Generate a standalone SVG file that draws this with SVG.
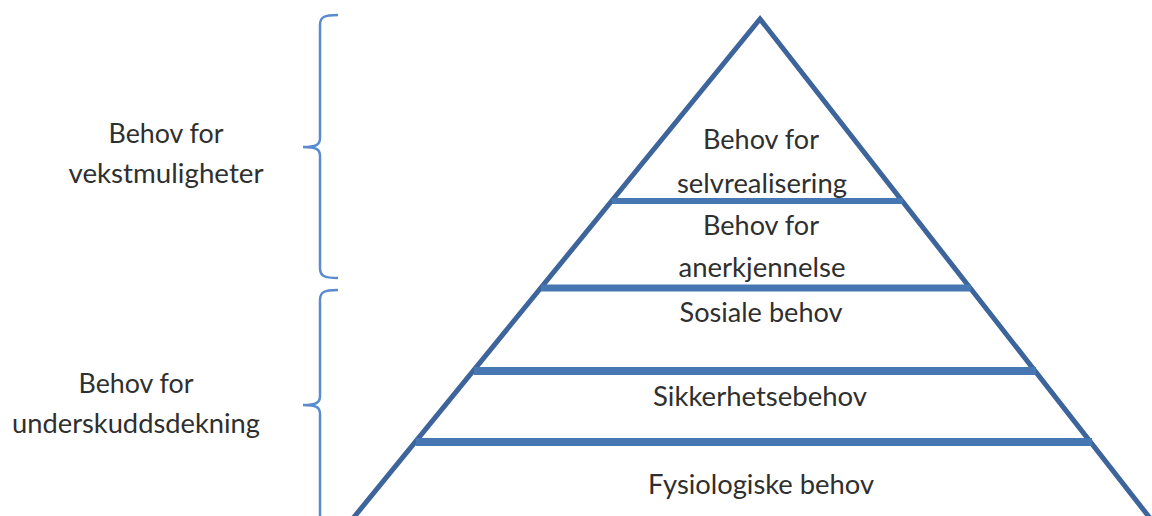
<svg xmlns="http://www.w3.org/2000/svg" width="1152" height="516" viewBox="0 0 1152 516">
<style>
.t{font-family:Lato,"Open Sans","Liberation Sans",sans-serif;font-size:27px;fill:#2f2f2f;text-anchor:middle}
.br{fill:none;stroke:#5B8BCF;stroke-width:2.5}
.ol{fill:none;stroke:#3D659C;stroke-width:5;stroke-linejoin:miter}
.bd{stroke:#4777B2}
</style>
<rect width="1152" height="516" fill="#fff"/>
<g id="connectors">
<path class="br" d="M338,15 C324,15 320,17 320,25 L320,138 C320,145 316,147 303,147 C316,147 320,149 320,156 L320,268 C320,276 324,278 338,278"/>
<path class="br" d="M338,290 C324,290 320,292 320,300 L320,396 C320,403 316,405 303,405 C316,405 320,407 320,414 L320,520"/>
</g>
<g id="pyramid">
<polyline class="ol" points="350,522 760,19 1153,522"/>
<line class="bd" x1="612" y1="201" x2="903" y2="201" stroke-width="6"/>
<line class="bd" x1="541" y1="288" x2="971" y2="288" stroke-width="7"/>
<line class="bd" x1="474" y1="371" x2="1036" y2="371" stroke-width="8"/>
<line class="bd" x1="416" y1="442" x2="1092" y2="442" stroke-width="8"/>
</g>
<g id="level-selvrealisering">
<text class="t" x="761" y="149" textLength="116" lengthAdjust="spacingAndGlyphs">Behov for</text>
<text class="t" x="762" y="193" textLength="170" lengthAdjust="spacingAndGlyphs">selvrealisering</text>
</g>
<g id="level-anerkjennelse">
<text class="t" x="761" y="235" textLength="116" lengthAdjust="spacingAndGlyphs">Behov for</text>
<text class="t" x="762" y="277" textLength="167" lengthAdjust="spacingAndGlyphs">anerkjennelse</text>
</g>
<g id="level-sosiale">
<text class="t" x="761" y="322" textLength="163" lengthAdjust="spacingAndGlyphs">Sosiale behov</text>
</g>
<g id="level-sikkerhet">
<text class="t" x="760" y="406" textLength="214" lengthAdjust="spacingAndGlyphs">Sikkerhetsebehov</text>
</g>
<g id="level-fysiologiske">
<text class="t" x="761" y="494" textLength="226" lengthAdjust="spacingAndGlyphs">Fysiologiske behov</text>
</g>
<g id="label-vekst">
<text class="t" x="166" y="143" textLength="115" lengthAdjust="spacingAndGlyphs">Behov for</text>
<text class="t" x="166" y="183" textLength="195" lengthAdjust="spacingAndGlyphs">vekstmuligheter</text>
</g>
<g id="label-underskudd">
<text class="t" x="136" y="393" textLength="115" lengthAdjust="spacingAndGlyphs">Behov for</text>
<text class="t" x="136" y="433" textLength="248" lengthAdjust="spacingAndGlyphs">underskuddsdekning</text>
</g>
</svg>
